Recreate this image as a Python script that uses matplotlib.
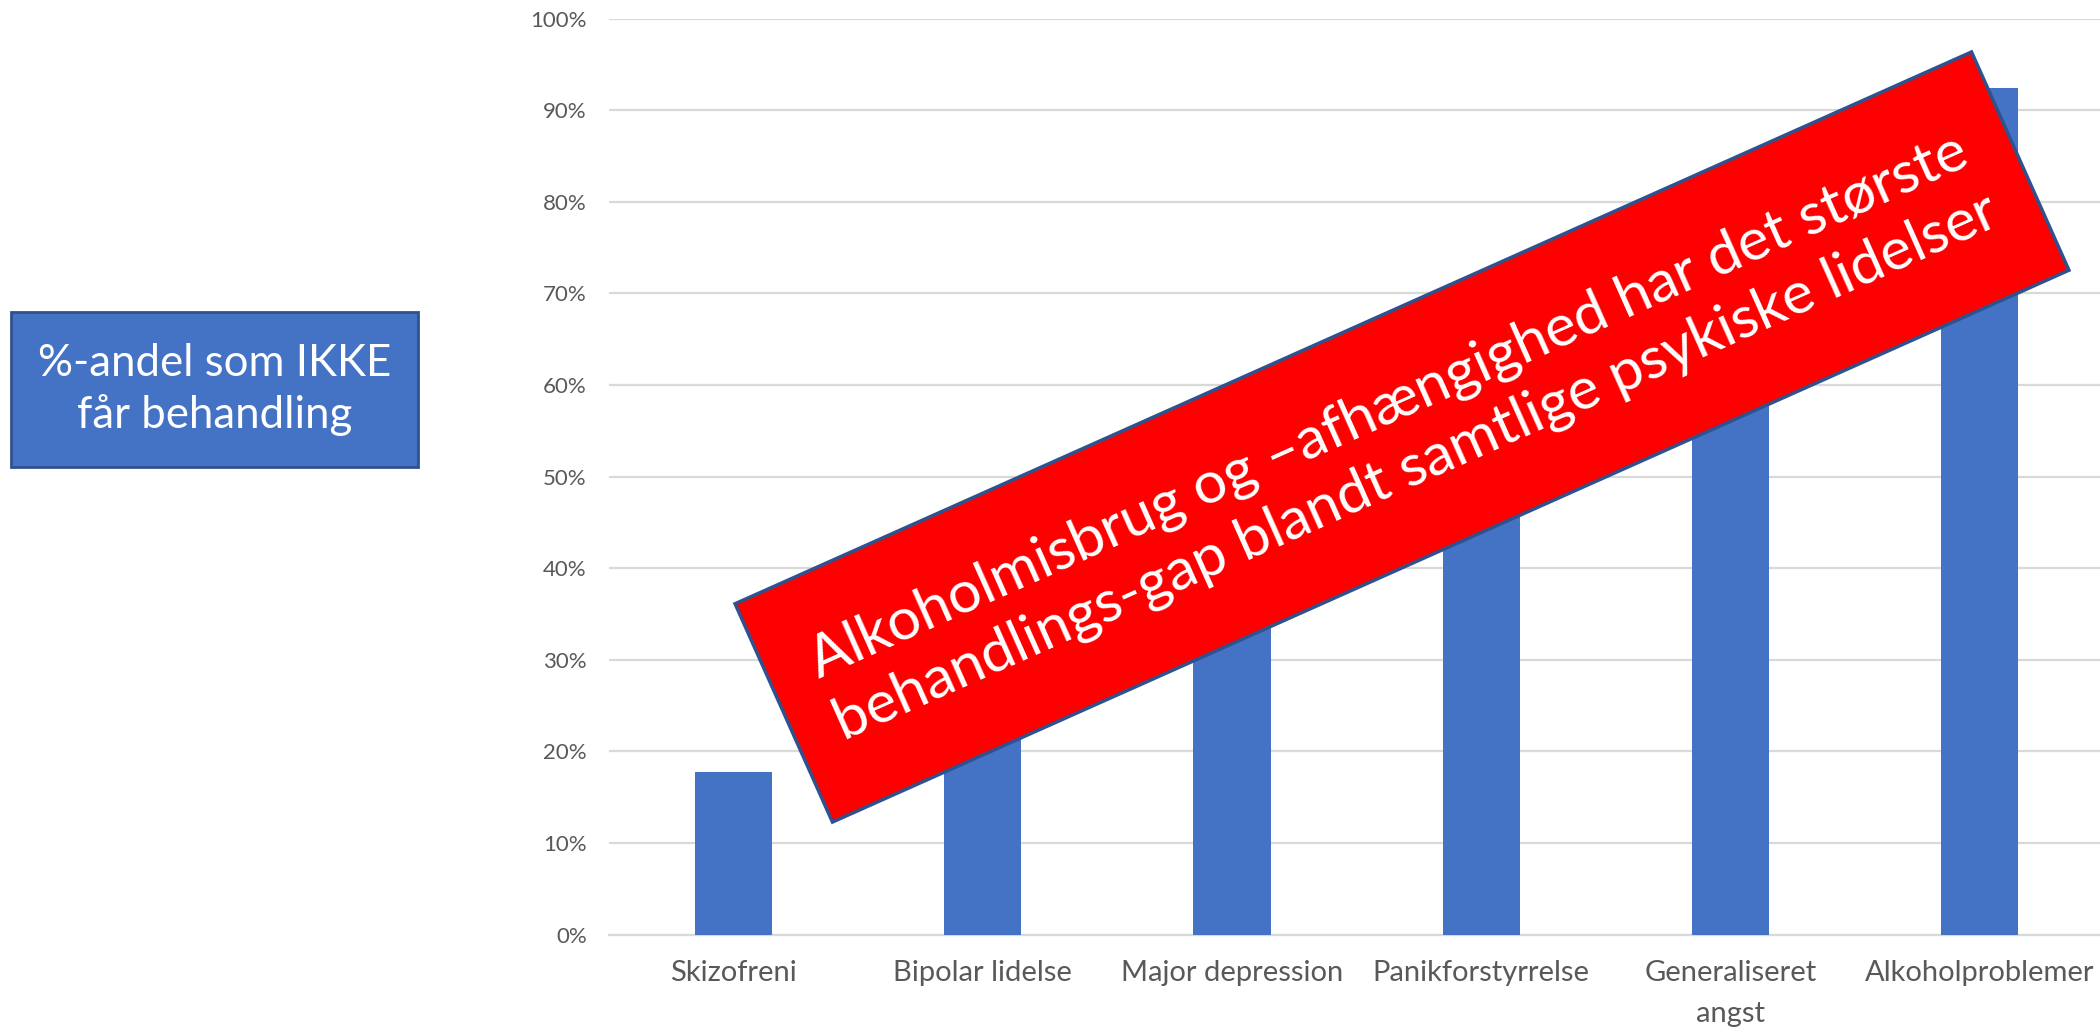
import numpy as np
import matplotlib
matplotlib.use("Agg")
import matplotlib.pyplot as plt
from matplotlib.patches import Rectangle
from matplotlib.transforms import Affine2D
from matplotlib.ticker import FuncFormatter

plt.rcParams['font.family'] = ['Lato', 'DejaVu Sans']

categories = ["Skizofreni", "Bipolar lidelse", "Major depression",
              "Panikforstyrrelse", "Generaliseret\nangst", "Alkoholproblemer"]
values = [17.8, 39.9, 45.4, 47.2, 62.3, 92.4]  # percent not receiving treatment
yticks = [0, 10, 20, 30, 40, 50, 60, 70, 80, 90, 100]

box_text = "%-andel som IKKE\nfår behandling"
banner_text = ("Alkoholmisbrug og \u2013afhængighed har det største\n"
               "behandlings-gap blandt samtlige psykiske lidelser")

W, H, DPI = 2100, 1031, 100
fig = plt.figure(figsize=(W / DPI, H / DPI), dpi=DPI)
ax = fig.add_axes([0.290, 0.0934, 0.712, 0.8885])

x = np.arange(len(categories))
ax.bar(x, values, width=0.31, color="#4472C4", zorder=3)
ax.set_xlim(-0.5, len(categories) - 0.5)
ax.set_ylim(0, 100)
ax.set_yticks(yticks)
ax.yaxis.set_major_formatter(FuncFormatter(lambda v, p: f"{int(v)}%"))
ax.yaxis.grid(True, color="#D9D9D9", linewidth=1.6, zorder=0)
ax.set_axisbelow(True)
for s in ["top", "right", "left"]:
    ax.spines[s].set_visible(False)
ax.spines["bottom"].set_color("#D9D9D9")
ax.spines["bottom"].set_linewidth(1.6)
ax.set_xticks(x)
ax.set_xticklabels(categories, fontsize=21, color="#595959", linespacing=1.75)
ax.tick_params(axis="x", length=0, pad=18)
ax.tick_params(axis="y", length=0, pad=16, labelsize=16, labelcolor="#595959")

# Left blue label box
fig.patches.append(Rectangle((0.0052, 0.547), 0.194, 0.150, transform=fig.transFigure,
                             facecolor="#4472C4", edgecolor="#2F528F", linewidth=2, zorder=5))
fig.text(0.0052 + 0.097, 0.547 + 0.075, box_text, ha="center", va="center",
         color="white", fontsize=31.5, linespacing=1.3, zorder=6)

# Rotated red banner
angle = 24.05
cx, cy = 1402 / DPI, (H - 437) / DPI   # inches
bw, bh = 1354 / DPI, 239 / DPI
tr = Affine2D().rotate_deg(angle).translate(cx, cy) + fig.dpi_scale_trans
banner = Rectangle((-bw / 2, -bh / 2), bw, bh, transform=tr,
                   facecolor="#FF0000", edgecolor="#2F528F", linewidth=2.5, zorder=10)
fig.patches.append(banner)
fig.text(cx / (W / DPI), cy / (H / DPI), banner_text, rotation=angle,
         rotation_mode="anchor", ha="center", va="center", multialignment="center",
         color="white", fontsize=42.5, linespacing=1.3, zorder=11)

fig.savefig("out.png", dpi=DPI)
